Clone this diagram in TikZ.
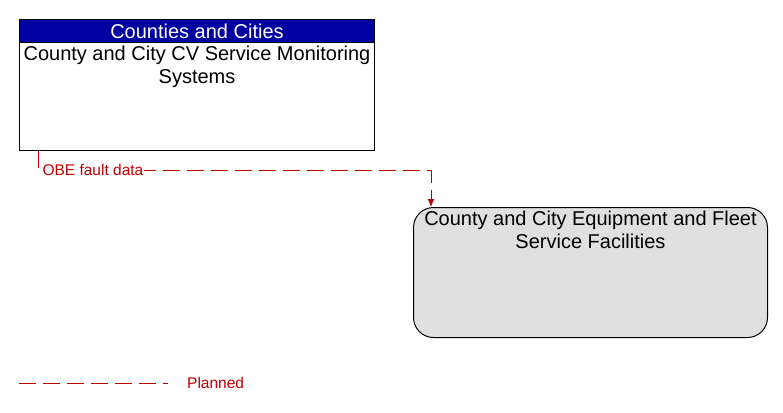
\documentclass[tikz,border=0pt]{standalone}
\usepackage{fontspec}
\setmainfont{Liberation Sans}
\usetikzlibrary{arrows.meta}
\tikzset{>={Latex[length=8pt, width=7pt]}}
\definecolor{chd}{RGB}{0,0,160}
\definecolor{cfl}{RGB}{224,224,224}
\definecolor{cpl}{RGB}{192,0,0}
\tikzset{
    sysbox/.style={draw, line width=1pt, fill=white, inner sep=0pt},
    headbar/.style={fill=chd, text=white, inner sep=0pt, minimum height=23pt,
        font=\fontsize{20}{22}\selectfont},
    boxtext/.style={align=center, inner sep=2pt, font=\fontsize{20}{23}\selectfont},
    planned/.style={draw=cpl, line width=1pt, dash pattern=on 17pt off 7pt},
    flowlabel/.style={text=cpl, fill=white, inner sep=1pt, font=\fontsize{15.5}{17}\selectfont}
}

\begin{document}
\begin{tikzpicture}[x=1pt, y=-1pt]
    \useasboundingbox (0, 0) rectangle (783, 412);
    % upper system
    \node[sysbox, minimum width=355pt, minimum height=131pt, anchor=north west] (mon) at (19, 19) {};
    \node[headbar, minimum width=354pt, anchor=north] (monhead) at ([yshift=-0.5pt]mon.north) {Counties and Cities};
    \draw[line width=1pt] (monhead.south west) -- (monhead.south east);
    \node[boxtext, anchor=north] (montext) at ([yshift=-1pt]monhead.south) {County and City CV Service Monitoring\\Systems};
    % lower system
    \node[sysbox, fill=cfl, rounded corners=20pt, minimum width=354pt, minimum height=130pt,
        anchor=north west] (fac) at (413, 207) {};
    \node[boxtext, anchor=north] (factext) at ([yshift=-2pt]fac.north) {County and City Equipment and Fleet\\Service Facilities};
    % flow
    \coordinate (obes) at ([xshift=19pt]mon.south west);
    \coordinate (obee) at ([xshift=18pt]fac.north west);
    \draw[planned, ->] (obes) -- ++(0, 19) -| node[flowlabel, pos=0, anchor=west, xshift=3pt] (obelbl) {OBE fault data} (obee);
    % legend
    \coordinate (legs) at (19, 383);
    \coordinate (lege) at (168, 383);
    \draw[planned] (legs) -- (lege);
    \node[flowlabel, anchor=west] (legtext) at (186, 383) {Planned};
\end{tikzpicture}
\end{document}
